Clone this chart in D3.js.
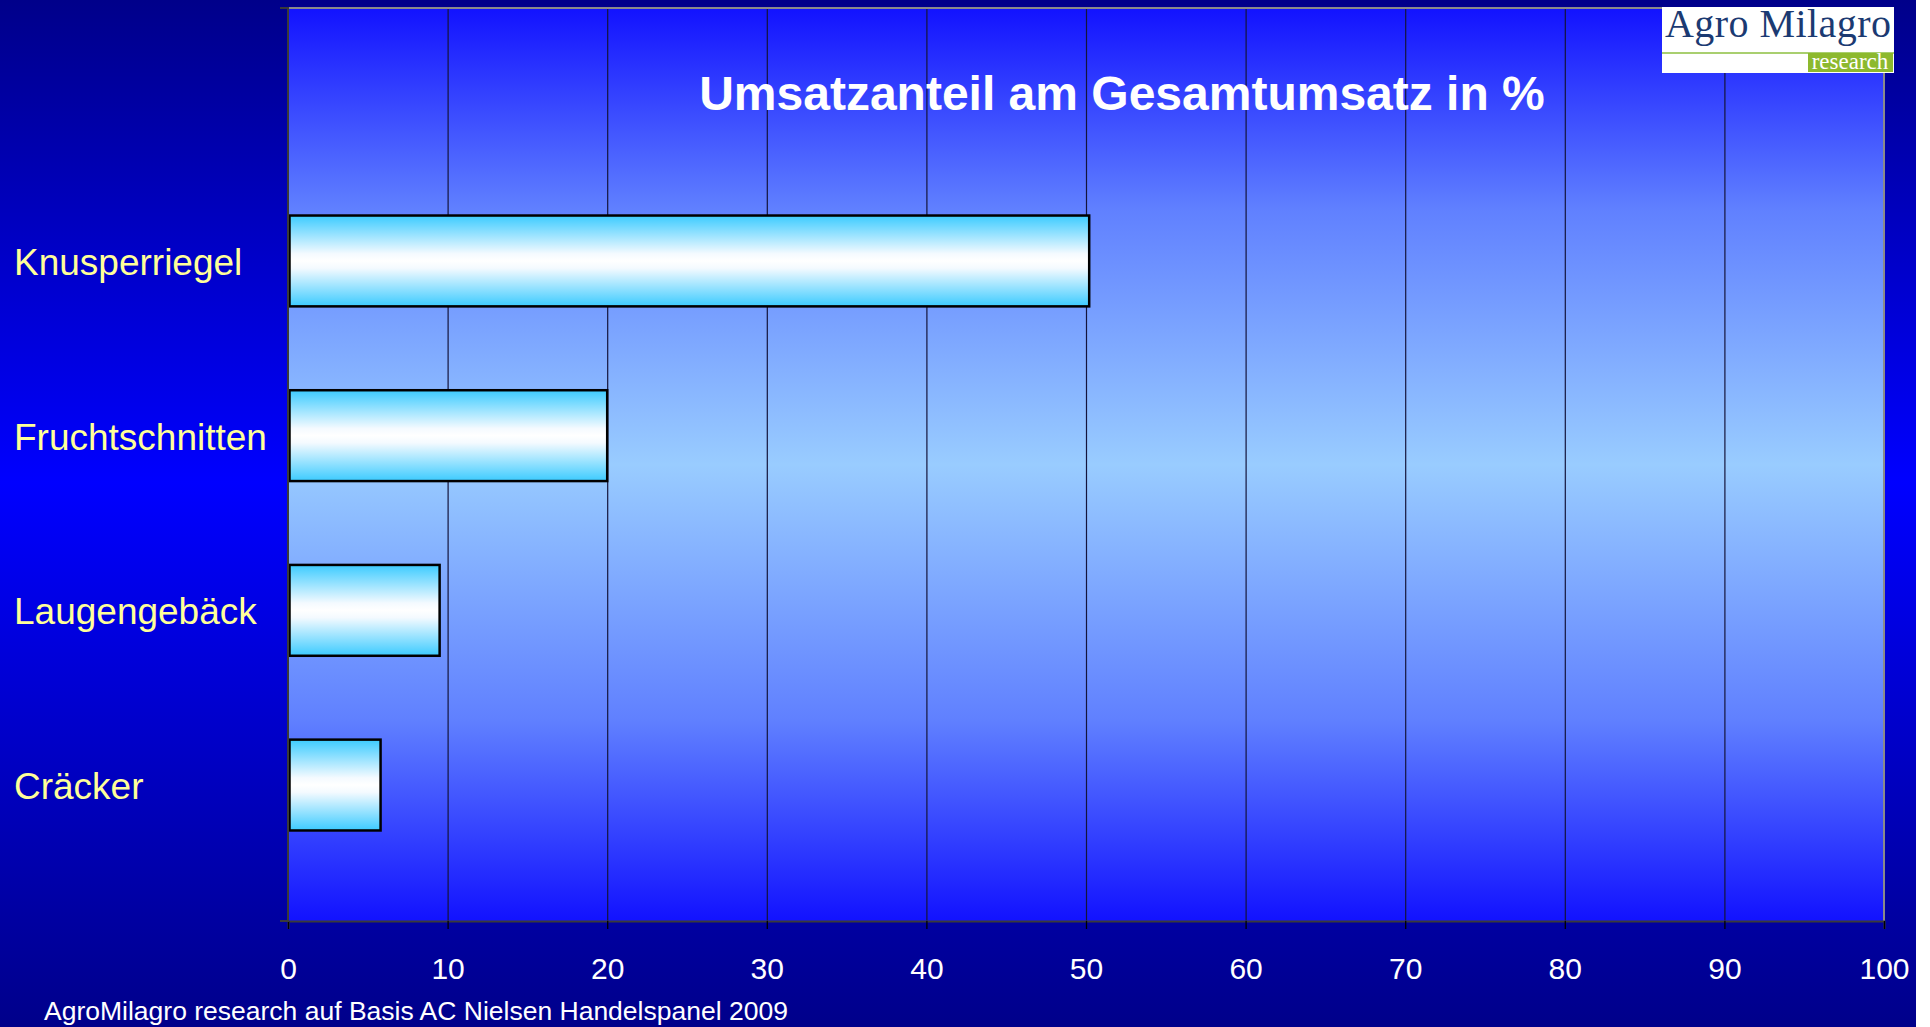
<!DOCTYPE html>
<html>
<head>
<meta charset="utf-8">
<script src="https://cdn.jsdelivr.net/npm/d3@7"></script>
<style>
  body { margin: 0; background: #fff; }
  text { font-family: "Liberation Sans", Arial, sans-serif; }
</style>
</head>
<body>
<div id="chart"></div>
<script>
const width = 1930;
const height = 1027;
const pageWidth = 1916;
// plot area in pixels
const plot = { left: 288, right: 1884, top: 8, bottom: 921 };

// data
const categories = ['Knusperriegel', 'Fruchtschnitten', 'Laugengebäck', 'Cräcker'];
const shares = [50.2, 20, 9.5, 5.8];
const xTicks = [0, 10, 20, 30, 40, 50, 60, 70, 80, 90, 100];
const title = 'Umsatzanteil am Gesamtumsatz in %';
const source = 'AgroMilagro research auf Basis AC Nielsen Handelspanel 2009';

const data = categories.map((c, i) => ({ name: c, value: shares[i] }));

const svg = d3.select('#chart')
    .append('svg')
    .attr('width', width)
    .attr('height', height);

const defs = svg.append('defs');

// page background: navy - blue - navy
const pageGrad = defs.append('linearGradient')
    .attr('id', 'pageGrad')
    .attr('x1', 0).attr('y1', 0).attr('x2', 0).attr('y2', 1);
pageGrad.append('stop').attr('offset', '0%').attr('stop-color', '#00008a');
pageGrad.append('stop').attr('offset', '47%').attr('stop-color', '#0000ff');
pageGrad.append('stop').attr('offset', '100%').attr('stop-color', '#00008a');

// plot background: blue - light blue - blue
const plotGrad = defs.append('linearGradient')
    .attr('id', 'plotGrad')
    .attr('x1', 0).attr('y1', 0).attr('x2', 0).attr('y2', 1);
plotGrad.append('stop').attr('offset', '0%').attr('stop-color', '#1212ff');
plotGrad.append('stop').attr('offset', '22%').attr('stop-color', '#6080ff');
plotGrad.append('stop').attr('offset', '50%').attr('stop-color', '#99ccff');
plotGrad.append('stop').attr('offset', '78%').attr('stop-color', '#6080ff');
plotGrad.append('stop').attr('offset', '100%').attr('stop-color', '#1212ff');

// bars: cyan - white - cyan
const barGrad = defs.append('linearGradient')
    .attr('id', 'barGrad')
    .attr('x1', 0).attr('y1', 0).attr('x2', 0).attr('y2', 1);
barGrad.append('stop').attr('offset', '0%').attr('stop-color', '#3ccbff');
barGrad.append('stop').attr('offset', '42%').attr('stop-color', '#f4faff');
barGrad.append('stop').attr('offset', '50%').attr('stop-color', '#ffffff');
barGrad.append('stop').attr('offset', '58%').attr('stop-color', '#f4faff');
barGrad.append('stop').attr('offset', '100%').attr('stop-color', '#3ccbff');

svg.append('rect')
    .attr('x', 0).attr('y', 0)
    .attr('width', pageWidth).attr('height', height)
    .attr('fill', 'url(#pageGrad)');

// scales
const xScale = d3.scaleLinear()
    .domain([0, 100])
    .range([plot.left, plot.right]);

const yScale = d3.scaleBand()
    .domain(categories)
    .range([173.6, 872.4])
    .paddingInner(0.48)
    .paddingOuter(0.24);

// plot area
svg.append('rect')
    .attr('x', plot.left).attr('y', plot.top)
    .attr('width', plot.right - plot.left)
    .attr('height', plot.bottom - plot.top)
    .attr('fill', 'url(#plotGrad)');

// vertical grid lines
const grid = svg.append('g')
    .attr('transform', `translate(0, ${plot.bottom})`)
    .call(d3.axisBottom(xScale)
        .tickValues(xTicks.slice(1, -1))
        .tickSize(-(plot.bottom - plot.top))
        .tickFormat(''));
grid.select('.domain').remove();
grid.selectAll('.tick line')
    .attr('stroke', '#14143c')
    .attr('stroke-width', 1.2);

// top and right border
svg.append('path')
    .attr('d', `M${plot.left},${plot.top}H${plot.right}V${plot.bottom}`)
    .attr('fill', 'none')
    .attr('stroke', '#8a8a8a')
    .attr('stroke-width', 2);

// bars
svg.selectAll('.bar')
    .data(data)
    .join('rect')
    .attr('class', 'bar')
    .attr('x', xScale(0) + 1.5)
    .attr('y', d => yScale(d.name))
    .attr('width', d => xScale(d.value) - xScale(0) - 1.5)
    .attr('height', yScale.bandwidth())
    .attr('fill', 'url(#barGrad)')
    .attr('stroke', '#000')
    .attr('stroke-width', 2.5);

// x axis
const xAxisGroup = svg.append('g')
    .attr('transform', `translate(0, ${plot.bottom})`)
    .call(d3.axisBottom(xScale)
        .tickValues(xTicks)
        .tickSize(8)
        .tickPadding(29));
xAxisGroup.select('.domain')
    .attr('stroke', '#3a3a3a')
    .attr('stroke-width', 2);
xAxisGroup.selectAll('.tick line')
    .attr('stroke', '#000')
    .attr('stroke-width', 1.3);
xAxisGroup.selectAll('.tick text')
    .attr('fill', '#fff')
    .style('font-size', '30px')
    .style('font-family', '"Liberation Sans", Arial, sans-serif');

// y axis line with corner ticks
svg.append('path')
    .attr('d', `M${plot.left - 8},${plot.top}H${plot.left}V${plot.bottom}H${plot.left - 8}`)
    .attr('fill', 'none')
    .attr('stroke', '#3a3a3a')
    .attr('stroke-width', 2);

// category labels
svg.selectAll('.cat-label')
    .data(data)
    .join('text')
    .attr('class', 'cat-label')
    .attr('x', 14)
    .attr('y', d => yScale(d.name) + yScale.bandwidth() / 2 + 14)
    .attr('fill', '#ffff99')
    .style('font-size', '37px')
    .text(d => d.name);

// title
svg.append('text')
    .attr('x', 1122)
    .attr('y', 110)
    .attr('text-anchor', 'middle')
    .attr('fill', '#fff')
    .style('font-size', '48px')
    .style('font-weight', 'bold')
    .text(title);

// source line
svg.append('text')
    .attr('x', 44)
    .attr('y', 1020)
    .attr('fill', '#fff')
    .style('font-size', '26.5px')
    .text(source);

// logo
const logo = svg.append('g');
logo.append('rect')
    .attr('x', 1662).attr('y', 7)
    .attr('width', 232).attr('height', 66)
    .attr('fill', '#fff');
logo.append('text')
    .attr('x', 1665).attr('y', 37)
    .attr('fill', '#1b3a72')
    .attr('textLength', 226)
    .style('font-family', '"Liberation Serif", "Times New Roman", serif')
    .style('font-size', '40px')
    .text('Agro Milagro');
logo.append('line')
    .attr('x1', 1662).attr('x2', 1894)
    .attr('y1', 53).attr('y2', 53)
    .attr('stroke', '#8cbf3f')
    .attr('stroke-width', 1.5);
logo.append('rect')
    .attr('x', 1808).attr('y', 53)
    .attr('width', 85).attr('height', 19)
    .attr('fill', '#8db92e');
logo.append('text')
    .attr('x', 1850).attr('y', 69)
    .attr('text-anchor', 'middle')
    .attr('fill', '#fff')
    .style('font-family', '"Liberation Serif", "Times New Roman", serif')
    .style('font-size', '23px')
    .text('research');
</script>
</body>
</html>
